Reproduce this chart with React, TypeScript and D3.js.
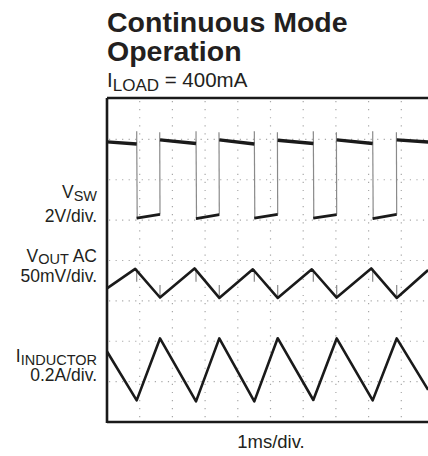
import React from 'react';
import * as d3 from 'd3';

// switching edges of V_SW (ms)
const fallTimes = [0.908, 2.722, 4.505, 6.309, 8.125];
const riseTimes = [1.621, 3.434, 5.22, 7.024, 8.859];

// V_SW levels (V): high segments start/end, low segments start/end
const vswHighStart = [3.72, 3.82, 3.82, 3.8, 3.82, 3.82];
const vswHighEnd = [3.62, 3.64, 3.62, 3.64, 3.64, 3.7];
const vswLowStart = [-0.06, -0.08, -0.06, -0.06, -0.08];
const vswLowEnd = [0.13, 0.12, 0.13, 0.12, 0.13];
const vswSpikeFall = 4.25;
const vswSpikeRise = 4.2;

// V_OUT AC (mV)
const voutStart = -6.6;
const voutPeaks = [17.5, 18, 17, 17, 18];
const voutTroughs = [-18, -18.5, -18.5, -18, -18.5];
const voutEnd = 16;
const voutSpikeFall = 1.6;
const voutSpikeRise = -2.5;

// I_INDUCTOR (A, AC)
const ilStart = 0.09;
const ilValleys = [-0.152, -0.157, -0.157, -0.15, -0.152];
const ilPeaks = [0.155, 0.155, 0.156, 0.155, 0.155];
const ilEnd = -0.1;

const tEnd = 9.82;
const xDivs = [1, 2, 3, 4, 5, 6, 7, 8, 9];
const yDivs = [-3, -2, -1, 0, 1, 2, 3];

const font = "'Liberation Sans', Arial, Helvetica, sans-serif";

const App = () => {
  const x = d3.scaleLinear().domain([0, 10]).range([107, 434]);
  const y = d3.scaleLinear().domain([-4, 4]).range([422, 99]);

  // channel placement on screen (divisions from centre) and sensitivity
  const ySw = (v: number) => y(1.077 + v / 2);
  const yOut = (mv: number) => y(-0.557 + mv / 50);
  const yIl = (a: number) => y(-2.705 + a / 0.2);

  const line = d3.line<[number, number]>().x(d => d[0]).y(d => d[1]);

  // VSW high segments
  const highStarts = [0, ...riseTimes];
  const highEnds = [...fallTimes, 10];
  const highSegs = highStarts.map((t0, i) =>
    line([[x(t0), ySw(vswHighStart[i])], [x(highEnds[i]), ySw(vswHighEnd[i])]]));
  const lowSegs = fallTimes.map((t0, i) =>
    line([[x(t0), ySw(vswLowStart[i])], [x(riseTimes[i]), ySw(vswLowEnd[i])]]));

  const voutPts: [number, number][] = [[x(0), yOut(voutStart)]];
  fallTimes.forEach((tf, i) => {
    voutPts.push([x(tf) - 1.5, yOut(voutPeaks[i])]);
    voutPts.push([x(riseTimes[i]), yOut(voutTroughs[i])]);
  });
  voutPts.push([x(tEnd), yOut(voutEnd)]);

  const ilPts: [number, number][] = [[x(0), yIl(ilStart)]];
  fallTimes.forEach((tf, i) => {
    ilPts.push([x(tf), yIl(ilValleys[i])]);
    ilPts.push([x(riseTimes[i]), yIl(ilPeaks[i])]);
  });
  ilPts.push([x(tEnd), yIl(ilEnd)]);

  const ink = '#1a1a1a';
  const grey = '#8a8a8a';

  return (
    <svg width={428} height={456} style={{ position: 'absolute', left: 0, top: 0 }} fontFamily={font}>
      <rect width={428} height={456} fill="#fff" />

      {/* grid */}
      {xDivs.map(d => (
        <line key={'v' + d} x1={x(d)} x2={x(d)} y1={y(4) + 2} y2={y(-4)}
          stroke="#a8a8a8" strokeWidth={1.2} strokeDasharray="1.2,6.88" />
      ))}
      {yDivs.map(d => (
        <line key={'h' + d} x1={x(0) + 2} x2={428} y1={y(d)} y2={y(d)}
          stroke="#a8a8a8" strokeWidth={1.2} strokeDasharray="1.2,5.34" />
      ))}

      {/* frame */}
      <line x1={x(0)} x2={x(0)} y1={y(4) - 1} y2={y(-4) + 1} stroke={ink} strokeWidth={2.6} />
      <line x1={x(0)} x2={428} y1={y(4) - 1} y2={y(4) - 1} stroke={ink} strokeWidth={2.6} />
      <line x1={x(0)} x2={428} y1={y(-4)} y2={y(-4)} stroke={ink} strokeWidth={2.6} />

      {/* V_SW edges */}
      {fallTimes.map((t, i) => (
        <line key={'fe' + i} x1={x(t)} x2={x(t) + 0.5} y1={ySw(vswSpikeFall)} y2={ySw(vswLowStart[i]) + 1}
          stroke={grey} strokeWidth={1.2} />
      ))}
      {riseTimes.map((t, i) => (
        <line key={'re' + i} x1={x(t)} x2={x(t) - 0.3} y1={ySw(vswLowEnd[i])} y2={ySw(vswSpikeRise)}
          stroke={grey} strokeWidth={1.2} />
      ))}
      {highSegs.map((p, i) => (
        <path key={'hs' + i} d={p || ''} fill="none" stroke={ink} strokeWidth={3.4} />
      ))}
      {lowSegs.map((p, i) => (
        <path key={'ls' + i} d={p || ''} fill="none" stroke={ink} strokeWidth={2.8} />
      ))}

      {/* V_OUT spikes */}
      {fallTimes.map((t, i) => (
        <line key={'vf' + i} x1={x(t)} x2={x(t)} y1={yOut(voutPeaks[i])} y2={yOut(voutSpikeFall)}
          stroke={grey} strokeWidth={1.2} />
      ))}
      {riseTimes.map((t, i) => (
        <line key={'vr' + i} x1={x(t)} x2={x(t)} y1={yOut(voutTroughs[i])} y2={yOut(voutSpikeRise)}
          stroke={grey} strokeWidth={1.2} />
      ))}
      <path d={line(voutPts) || ''} fill="none" stroke={ink} strokeWidth={2.6} strokeLinejoin="round" />
      <path d={line(ilPts) || ''} fill="none" stroke={ink} strokeWidth={2.6} strokeLinejoin="round" />

      {/* titles */}
      <text x={107} y={31.7} fontSize={28.5} fontWeight="bold" fill="#231f20">Continuous Mode</text>
      <text x={107} y={61} fontSize={28.5} fontWeight="bold" fill="#231f20">Operation</text>
      <text x={107} y={86.5} fontSize={20.5} fill="#231f20">
        I<tspan fontSize={17} dy={4.5}>LOAD</tspan><tspan dy={-4.5}> = 400mA</tspan>
      </text>

      {/* channel labels */}
      <g fill="#231f20" textAnchor="end" fontSize={17.5}>
        <text x={97} y={198}>V<tspan fontSize={14.5} dy={3}>SW</tspan></text>
        <text x={97} y={222}>2V/div.</text>
        <text x={97} y={261.7}>V<tspan fontSize={14.5} dy={2.4}>OUT</tspan><tspan dy={-2.4}> AC</tspan></text>
        <text x={97} y={281.5}>50mV/div.</text>
        <text x={97} y={361.7}>I<tspan fontSize={14.5} dy={3}>INDUCTOR</tspan></text>
        <text x={97} y={380.5}>0.2A/div.</text>
      </g>
      <text x={271} y={448.3} fontSize={18.5} textAnchor="middle" fill="#231f20">1ms/div.</text>
    </svg>
  );
};

export default App;
